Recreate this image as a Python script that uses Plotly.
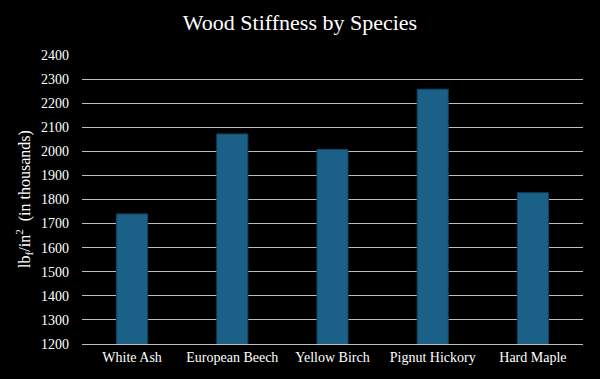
import plotly.graph_objects as go

species = ["White Ash", "European Beech", "Yellow Birch", "Pignut Hickory", "Hard Maple"]
stiffness = [1740, 2072, 2008, 2258, 1828]
y_ticks = list(range(1200, 2401, 100))

FONT = "Liberation Serif, DejaVu Serif, serif"

fig = go.Figure(go.Bar(
    x=species, y=stiffness,
    marker=dict(color="#1B6187", line=dict(color="#0F4460", width=1)),
    width=0.31,
))
fig.update_layout(
    width=600, height=379,
    paper_bgcolor="black", plot_bgcolor="black",
    margin=dict(l=82, r=17, t=54, b=35),
    title=dict(text="Wood Stiffness by Species", x=0.5, xanchor="center", y=0.942, yanchor="middle",
               font=dict(family=FONT, size=22, color="white")),
    font=dict(family=FONT, color="white", size=14),
    showlegend=False,
)
fig.update_yaxes(range=[1200, 2404], tickvals=y_ticks, showgrid=True, gridcolor="#BDBDBD", gridwidth=1,
                 zeroline=False, ticks="", automargin=False, ticklabelstandoff=12,
                 title=dict(text="lb<sub>f</sub>/in<sup>2</sup>  (in thousands)", font=dict(size=16, family=FONT, color="white"), standoff=6),
                 tickfont=dict(size=14, family=FONT, color="white"))
fig.update_xaxes(showline=True, linecolor="#BDBDBD", linewidth=1, showgrid=False, automargin=False,
                 tickfont=dict(size=14, family=FONT, color="white"))
fig.write_html("out.html", config={"displayModeBar": False},
               post_script="document.body.style.margin='0';document.body.style.background='black';")
